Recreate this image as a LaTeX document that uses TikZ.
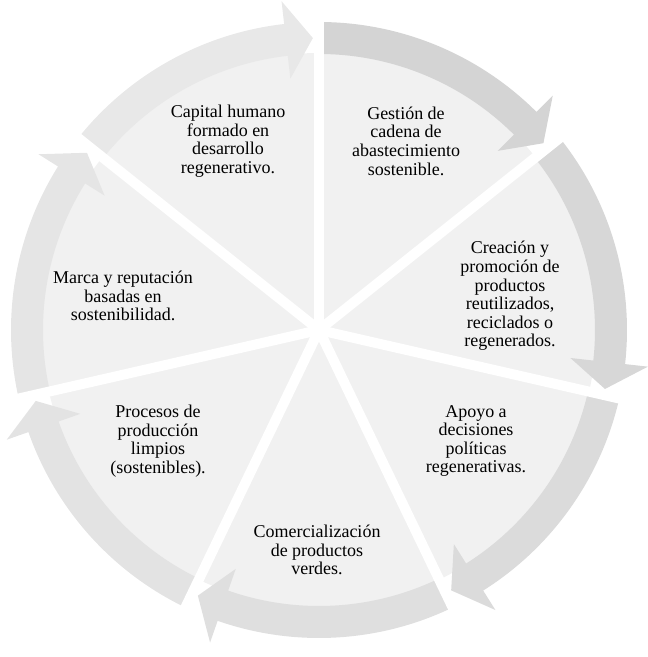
\documentclass[tikz,border=0pt]{standalone}
\usepackage{fontspec}
\setmainfont{Liberation Serif}
\usepackage{xcolor}
\usepackage{tikz}

\begin{document}
\begin{tikzpicture}[
  x=1pt, y=1pt,
  font=\fontsize{18pt}{18.6pt}\selectfont,
  every node/.style={align=center},
  wedgefill/.style={fill=black!5.5},
  sep/.style={draw=white, line width=10pt}
]
  \useasboundingbox (0,0) rectangle (648,657);

  \begin{scope}[shift={(319,327)}]
    % Inner disc of the segments
    \fill[wedgefill] (0,0) circle[radius=277pt];

    % Curved arrows round the ring
    \foreach \k/\shade in {0/17, 1/15.5, 2/14, 3/12.5, 4/11, 5/10, 6/9} {
      \pgfmathsetmacro{\s}{90-360/7*\k}
      \pgfmathsetmacro{\e}{\s-360/7}
      \fill[black!\shade] (\s:308pt) arc[start angle=\s, end angle=\e+6.5, radius=308pt]
        -- ({\e+6.5}:331pt) -- ({\e+1.2}:292pt) -- ({\e+6.5}:253pt) -- ({\e+6.5}:276pt)
        arc[start angle=\e+6.5, end angle=\s, radius=276pt] -- cycle;
    }

    % White gaps between the segments
    \foreach \k in {0,...,6}
      \draw[sep] (0,0) -- ({90-360/7*\k}:310pt);
  \end{scope}

  % Segment texts
  \node (gestion) at (406,516) {Gestión de\\cadena de\\abastecimiento\\sostenible.};
  \node (creacion) at (510,361) {Creación y\\promoción de\\productos\\reutilizados,\\reciclados o\\regenerados.};
  \node (apoyo) at (476,216) {Apoyo a\\decisiones\\políticas\\regenerativas.};
  \node (comercial) at (317,107) {Comercialización\\de productos\\verdes.};
  \node (procesos) at (158,216) {Procesos de\\producción\\limpios\\(sostenibles).};
  \node (marca) at (123,361) {Marca y reputación\\basadas en\\sostenibilidad.};
  \node (capital) at (228,516) {Capital humano\\formado en\\desarrollo\\regenerativo.};

\end{tikzpicture}
\end{document}
